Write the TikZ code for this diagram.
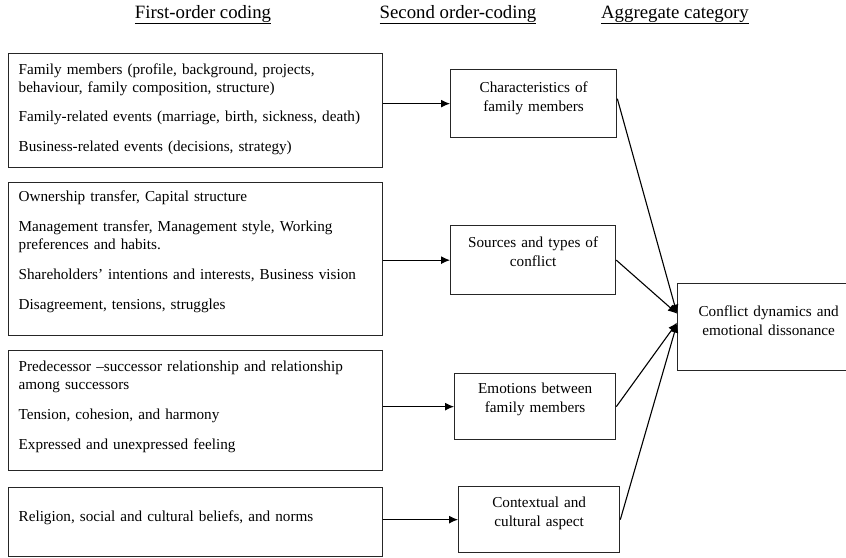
\documentclass[tikz,border=0pt]{standalone}
\usepackage{fontspec}
\setmainfont{Liberation Serif}
\usepackage{tikz}
\usetikzlibrary{calc,positioning,arrows.meta}

\tikzset{
  codebox/.style={draw=black!85,line width=1.3pt,anchor=north west,inner xsep=10pt,inner ysep=0pt,
    text width=354pt,align=left,font=\fontsize{15.2}{18}\selectfont},
  catbox/.style={draw=black!85,line width=1.3pt,anchor=north west,inner xsep=5pt,inner ysep=0pt,
    align=center,font=\fontsize{15.2}{19}\selectfont},
  heading/.style={anchor=base,font=\fontsize{18.8}{22}\selectfont}
}

\begin{document}
\begin{tikzpicture}[x=1pt,y=-1pt,>={Latex[length=9pt,width=8pt]},line width=1.1pt]
    \useasboundingbox (0,0) rectangle (846,557);

    \node [heading] (first) at (203,18) {\underline{First-order coding}};
    \node [heading] (second) at (458,18) {\underline{Second order-coding}};
    \node [heading] (aggr) at (675,18) {\underline{Aggregate category}};

    \node [codebox,text height=21pt,text depth=93pt] (fam) at (8,53)
        {Family members (profile, background, projects,\\
         behaviour, family composition, structure)\\[11pt]
         Family-related events (marriage, birth, sickness, death)\\[12pt]
         Business-related events (decisions, strategy)};
    \node [codebox,text height=19pt,text depth=134pt] (own) at (8,182)
        {Ownership transfer, Capital structure\\[12pt]
         Management transfer, Management style, Working\\
         preferences and habits.\\[12pt]
         Shareholders’ intentions and interests, Business vision\\[12pt]
         Disagreement, tensions, struggles};
    \node [codebox,text height=21pt,text depth=99pt] (pred) at (8,350)
        {Predecessor –successor relationship and relationship\\
         among successors\\[12pt]
         Tension, cohesion, and harmony\\[12pt]
         Expressed and unexpressed feeling};
    \node [codebox,text height=34pt,text depth=35pt] (rel) at (8,487)
        {Religion, social and cultural beliefs, and norms};

    \node [catbox,text width=156pt,text height=23pt,text depth=45pt] (chr) at (450,69)
        {Characteristics of\\ family members};
    \node [catbox,text width=155pt,text height=22pt,text depth=47pt] (src) at (450,225)
        {Sources and types of\\ conflict};
    \node [catbox,text width=151pt,text height=20pt,text depth=46pt] (emo) at (454,373)
        {Emotions between\\ family members};
    \node [catbox,text width=151pt,text height=21pt,text depth=45pt] (ctx) at (458,486)
        {Contextual and\\ cultural aspect};
    \node [catbox,text width=172pt,text height=33pt,text depth=54pt] (agg) at (677,283)
        {Conflict dynamics and\\ emotional dissonance};

    \draw [->] (fam.east |- chr.west) -- (chr.west);
    \draw [->] (own.east |- src.west) -- (src.west);
    \draw [->] (pred.east |- emo.west) -- (emo.west);
    \draw [->] (rel.east |- ctx.west) -- (ctx.west);

    \draw [->] ([yshift=5pt]chr.east) -- ([yshift=13.5pt]agg.west);
    \draw [->] (src.east) -- ([yshift=13.5pt]agg.west);
    \draw [->] (emo.east) -- ([yshift=4.5pt]agg.west);
    \draw [->] (ctx.east) -- ([yshift=3.5pt]agg.west);
\end{tikzpicture}
\end{document}
